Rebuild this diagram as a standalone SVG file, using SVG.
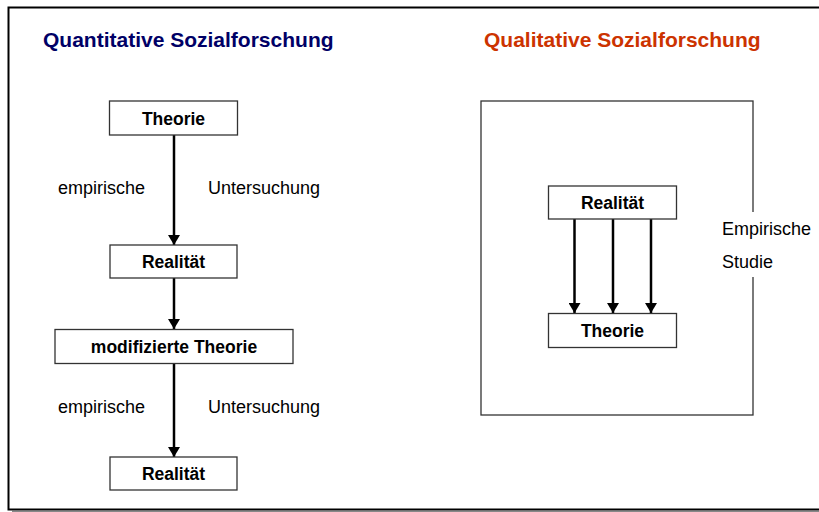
<svg xmlns="http://www.w3.org/2000/svg" width="819" height="512" viewBox="0 0 819 512">
<defs>
<style>
.box{fill:#fff;stroke:#333;stroke-width:1.3}
.bl{font-family:"Liberation Sans",Arial,sans-serif;font-weight:bold;font-size:17.5px;fill:#000;text-anchor:middle}
.lb{font-family:"Liberation Sans",Arial,sans-serif;font-size:18px;fill:#000}
.title{font-family:"Liberation Sans",Arial,sans-serif;font-weight:bold;font-size:21px}
.arr{stroke:#000;stroke-width:2.5;fill:none;marker-end:url(#ah)}
</style>
<marker id="ah" viewBox="0 0 10 12" refX="10" refY="6" markerWidth="4" markerHeight="4.8" orient="auto" markerUnits="strokeWidth">
<path d="M0,0 L10,6 L0,12 z" fill="#000"/>
</marker>
</defs>
<rect width="819" height="512" fill="#fff"/>
<line x1="12" y1="511.5" x2="819" y2="511.5" stroke="#888" stroke-width="1.5"/>
<rect x="8.5" y="7.5" width="830" height="502" fill="none" stroke="#000" stroke-width="2"/>
<text class="title" x="43" y="47" fill="#000066">Quantitative Sozialforschung</text>
<text class="title" x="484" y="47" fill="#CC3300">Qualitative Sozialforschung</text>

<g id="studie">
<rect x="481" y="101" width="272" height="314" fill="none" stroke="#333" stroke-width="1.3"/>
<rect x="745" y="212" width="16" height="65" fill="#fff"/>
<text class="lb" x="722" y="235">Empirische</text>
<text class="lb" x="722" y="268">Studie</text>
</g>

<g id="connectors">
<line class="arr" x1="174" y1="135" x2="174" y2="245"/>
<line class="arr" x1="174" y1="278" x2="174" y2="329"/>
<line class="arr" x1="174" y1="363" x2="174" y2="457"/>
<line class="arr" x1="574.5" y1="219" x2="574.5" y2="313"/>
<line class="arr" x1="613" y1="219" x2="613" y2="313"/>
<line class="arr" x1="651" y1="219" x2="651" y2="313"/>
</g>

<g id="labels">
<text class="lb" x="58" y="194">empirische</text>
<text class="lb" x="208" y="194">Untersuchung</text>
<text class="lb" x="58" y="413">empirische</text>
<text class="lb" x="208" y="413">Untersuchung</text>
</g>

<g id="theorie1"><rect class="box" x="109.5" y="101" width="128" height="34"/><text class="bl" x="173.5" y="124.5">Theorie</text></g>
<g id="realitaet1"><rect class="box" x="110" y="245" width="127" height="33"/><text class="bl" x="173.5" y="268">Realität</text></g>
<g id="modtheorie"><rect class="box" x="55" y="329.5" width="238" height="34"/><text class="bl" x="174" y="353">modifizierte Theorie</text></g>
<g id="realitaet2"><rect class="box" x="110" y="457" width="127" height="33"/><text class="bl" x="173.5" y="480">Realität</text></g>
<g id="realitaet3"><rect class="box" x="548.5" y="186" width="128" height="33"/><text class="bl" x="612.5" y="209">Realität</text></g>
<g id="theorie2"><rect class="box" x="548.5" y="313.5" width="128" height="34"/><text class="bl" x="612.5" y="337">Theorie</text></g>
</svg>
